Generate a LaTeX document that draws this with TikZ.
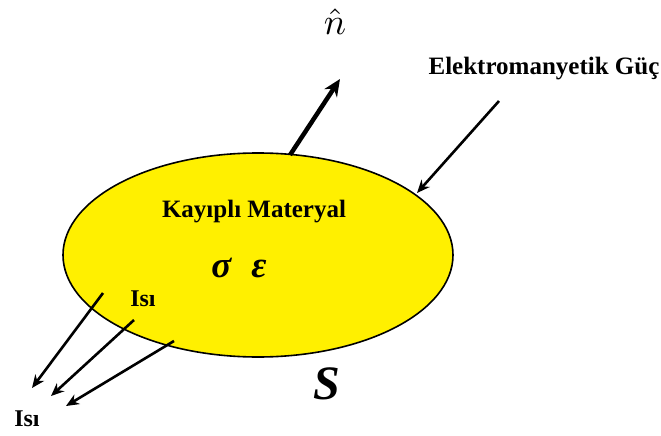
\documentclass[tikz,border=0pt]{standalone}
\usepackage{fontspec}
\setmainfont{Liberation Serif}
\usetikzlibrary{shapes.geometric,arrows.meta}
\definecolor{bodyyellow}{RGB}{255,240,0}
\tikzset{
  bodyshape/.style={ellipse, draw=black, fill=bodyyellow, line width=1.6pt, minimum width=390pt, minimum height=204pt, inner sep=0pt, outer sep=0pt},
  lbl/.style={inner sep=0pt},
  thickarrow/.style={line width=2.6pt, -{Stealth[length=13pt,width=11pt]}},
  normalarrow/.style={line width=4.5pt, -{Stealth[length=17pt,width=15pt]}}
}
\begin{document}
\begin{tikzpicture}[x=1pt,y=-1pt]
\useasboundingbox (0,0) rectangle (661,436);
\node[bodyshape] (body) at (258,255) {};
\node[lbl, font=\bfseries\fontsize{25}{28}\selectfont] (mat) at (254,212) {Kayıplı Materyal};
\node[lbl, font=\bfseries\itshape\fontsize{37}{40}\selectfont] (greek) at (239,268) {σ\hspace{20pt}ε};
\node[lbl, scale=3.7] (nhat) at (335,22) {$\hat{n}$};
\node[lbl, font=\bfseries\fontsize{25}{28}\selectfont] (em) at (544,69) {Elektromanyetik Güç};
\node[lbl, font=\bfseries\itshape\fontsize{48}{52}\selectfont] (S) at (327,384) {S};
\node[lbl, font=\bfseries\fontsize{24}{26}\selectfont] (heatin) at (143,299) {Isı};
\node[lbl, font=\bfseries\fontsize{24}{26}\selectfont] (heatout) at (27,419) {Isı};
\coordinate (nbase) at (290,155);
\coordinate (ntip) at (340,79);
\coordinate (emstart) at (499,101);
\coordinate (emtip) at (417,193);
\coordinate (h1s) at (103,293);
\coordinate (h1t) at (32,388);
\coordinate (h2s) at (134,320);
\coordinate (h2t) at (51,396);
\coordinate (h3s) at (174,341);
\coordinate (h3t) at (66,406);
\draw[normalarrow] (nbase) -- (ntip);
\draw[thickarrow] (emstart) -- (emtip);
\draw[thickarrow] (h1s) -- (h1t);
\draw[thickarrow] (h2s) -- (h2t);
\draw[thickarrow] (h3s) -- (h3t);
\end{tikzpicture}
\end{document}
